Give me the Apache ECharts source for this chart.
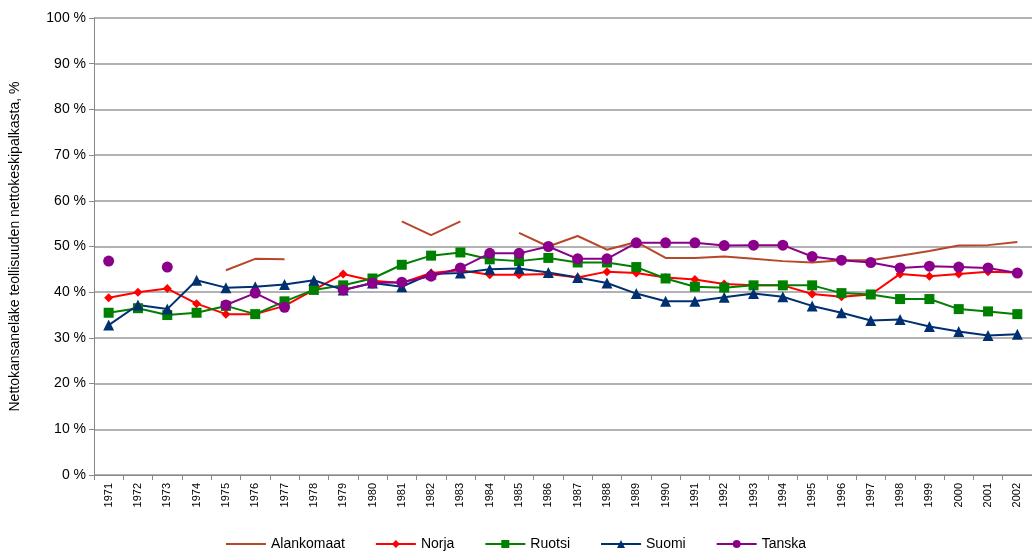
<!DOCTYPE html>
<html>
<head>
<meta charset="utf-8">
<script src="https://cdn.jsdelivr.net/npm/echarts@6/dist/echarts.min.js"></script>
<style>html,body{margin:0;padding:0;background:#fff}#main{width:1032px;height:558px}</style>
</head>
<body>
<div id="main"></div>
<script>
var years = [];
for (var y = 1971; y <= 2002; y++) years.push(String(y));
var alankomaat = [null,null,null,null,44.8,47.3,47.2,null,null,null,55.5,52.5,55.5,null,53,50,52.3,49.3,51,47.5,47.5,47.8,47.3,46.8,46.5,47,47,48,49,50.2,50.3,51];
var norja = [38.8,40,40.8,37.5,35.2,35.2,37,40.5,44,42.5,42,44.2,44.8,43.8,43.8,44,43.2,44.5,44.2,43.2,42.8,41.8,41.5,41.5,39.6,39,39.5,44,43.5,44,44.5,44.3];
var ruotsi = [35.5,36.5,35,35.5,37,35.2,38,40.5,41.5,43,46,48,48.7,47.2,46.8,47.5,46.5,46.5,45.5,43,41.2,41,41.5,41.5,41.5,39.8,39.5,38.5,38.5,36.3,35.8,35.2];
var suomi = [32.8,37.2,36.3,42.6,41,41.2,41.7,42.6,40.5,42,41.2,44,44.2,45,45.2,44.3,43.2,42,39.7,38,38,38.9,39.7,39,37,35.5,33.8,34,32.5,31.4,30.5,30.8];
var tanska = [46.8,null,45.5,null,37.2,39.8,36.7,null,40.5,42,42.2,43.5,45.3,48.5,48.5,50,47.3,47.3,50.8,50.8,50.8,50.2,50.3,50.3,47.8,47,46.5,45.3,45.7,45.5,45.3,44.2];

var chart = echarts.init(document.getElementById('main'));
function s(name, data, color, symbol, size) {
    return {
        name: name, type: 'line', data: data, color: color,
        symbol: symbol, symbolSize: size, showSymbol: symbol !== 'none',
        lineStyle: {width: 2, color: color}, itemStyle: {color: color},
        connectNulls: false, animation: false
    };
}
chart.setOption({
    backgroundColor: '#FFFFFF',
    textStyle: {fontFamily: 'Arial, Liberation Sans, sans-serif'},
    grid: {left: 90, right: 0, top: 18, bottom: 83, containLabel: false},
    legend: {
        bottom: 2, left: 'center', itemGap: 30, itemWidth: 40, itemHeight: 10,
        textStyle: {fontSize: 14, color: '#000'},
        data: [{name: 'Alankomaat', icon: 'path://M0,4 L40,4 L40,6 L0,6 Z'},'Norja','Ruotsi','Suomi','Tanska']
    },
    xAxis: {
        type: 'category', data: years, boundaryGap: true,
        axisLine: {lineStyle: {color: '#888'}},
        axisTick: {show: true, lineStyle: {color: '#888'}},
        axisLabel: {rotate: 90, fontSize: 11, color: '#000', interval: 0}
    },
    yAxis: {
        type: 'value', min: 0, max: 100, interval: 10,
        name: 'Nettokansaneläke teollisuuden nettokeskipalkasta, %',
        nameLocation: 'middle', nameGap: 72, nameRotate: 90,
        nameTextStyle: {fontSize: 14, color: '#000'},
        axisLine: {show: true, lineStyle: {color: '#888'}},
        axisTick: {show: true, lineStyle: {color: '#888'}},
        axisLabel: {formatter: '{value} %', fontSize: 14, color: '#000'},
        splitLine: {lineStyle: {color: '#999', width: 1.5}}
    },
    series: [
        s('Alankomaat', alankomaat, '#B7472A', 'none', 0),
        s('Norja', norja, '#FF0000', 'diamond', 9),
        s('Ruotsi', ruotsi, '#008000', 'rect', 10),
        s('Suomi', suomi, '#003070', 'triangle', 11),
        s('Tanska', tanska, '#8B008B', 'circle', 11)
    ]
});
</script>
</body>
</html>
